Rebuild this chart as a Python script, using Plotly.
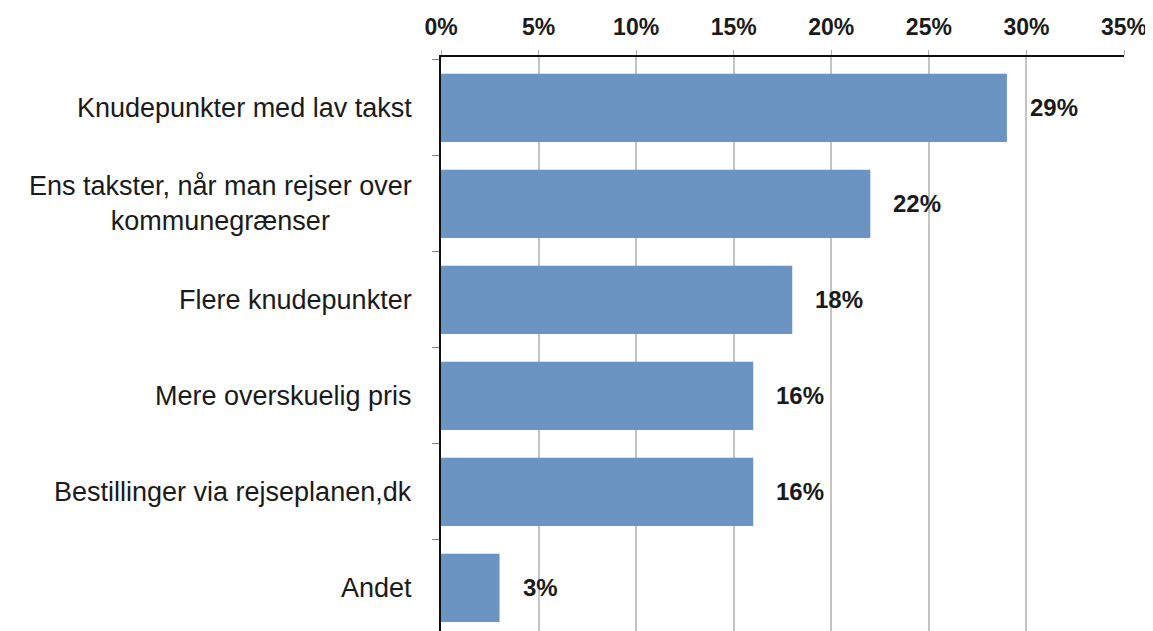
import plotly.graph_objects as go

# Survey answers
categories = [
    'Knudepunkter med lav takst',
    'Ens takster, når man rejser over<br>kommunegrænser',
    'Flere knudepunkter',
    'Mere overskuelig pris',
    'Bestillinger via rejseplanen,dk',
    'Andet',
]
values = [29, 22, 18, 16, 16, 3]
tick_vals = [0, 5, 10, 15, 20, 25, 30, 35]

bar_color = '#6c94c2'
font_family = 'Liberation Sans, Arial, sans-serif'

fig = go.Figure()

fig.add_trace(
    go.Bar(
        x=values,
        y=categories,
        orientation='h',
        width=0.71,
        marker=dict(color=bar_color, line=dict(width=0)),
        hoverinfo='skip',
    )
)

annotations = []

# category labels (centered multi-line, right-anchored next to the axis)
for cat in categories:
    annotations.append(dict(
        x=0, xref='paper', y=cat, yref='y',
        text=cat, showarrow=False,
        xanchor='right', yanchor='middle', align='center',
        xshift=-27,
        font=dict(family=font_family, size=27, color='#1a1a1a'),
    ))

# value labels outside the bars
for cat, val in zip(categories, values):
    annotations.append(dict(
        x=val, xref='x', y=cat, yref='y',
        text=f'{val}%', showarrow=False,
        xanchor='left', yanchor='middle',
        xshift=21,
        font=dict(family=font_family, size=24, color='#1a1a1a', weight='bold'),
    ))

# the page body adds an 8px offset, so the figure is 8px smaller than the window
fig.update_layout(
    width=1145,
    height=623,
    margin=dict(l=433, r=29, t=49, b=0),
    paper_bgcolor='white',
    plot_bgcolor='white',
    showlegend=False,
    annotations=annotations,
    xaxis=dict(
        side='top',
        range=[0, 35],
        tickvals=tick_vals,
        ticktext=[f'{t}%' for t in tick_vals],
        tickfont=dict(family=font_family, size=23, color='#1a1a1a', weight='bold'),
        ticklabelstandoff=6,
        showgrid=True,
        gridcolor='#c4c4c4',
        gridwidth=1.5,
        showline=True,
        linecolor='#111111',
        linewidth=2,
        ticks='outside',
        ticklen=5,
        tickcolor='#aaaaaa',
        zeroline=False,
        fixedrange=True,
    ),
    yaxis=dict(
        type='category',
        range=[5.45, -0.53],
        showticklabels=False,
        showgrid=False,
        showline=True,
        linecolor='#111111',
        linewidth=2,
        ticks='outside',
        tickson='boundaries',
        ticklen=7,
        tickcolor='#888888',
        zeroline=False,
        fixedrange=True,
    ),
)

fig.write_html('out.html')
